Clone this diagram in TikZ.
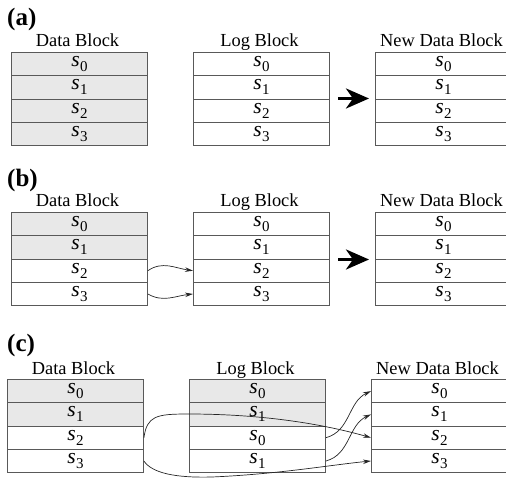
\documentclass[tikz,border=0pt]{standalone}
\usepackage{fontspec}
\setmainfont{Liberation Serif}
\usetikzlibrary{arrows.meta}
\tikzset{
  cell/.style={draw=black!65, line width=0.9pt, minimum width=136pt, minimum height=23.3pt,
    inner sep=0pt, font=\fontsize{21.5}{21.5}\selectfont, anchor=north west},
  grey/.style={cell, fill=black!9},
  blk/.style={font=\fontsize{18.4}{18.4}\selectfont, anchor=base, inner sep=0pt},
  panel/.style={font=\fontsize{25}{25}\selectfont\bfseries, anchor=base west, inner sep=0pt},
  conn/.style={draw=black!85, line width=0.7pt, -{Stealth[length=8pt,width=4.5pt]}},
  bigarrow/.style={draw=black, line width=3.5pt, -{Stealth[length=23pt,width=20pt,inset=7pt]}}
}
\newcommand{\sv}[1]{\textit{s}\kern0.5pt\raisebox{-5pt}{\fontsize{15}{15}\selectfont #1}}
% name, x, y(top), number of grey rows, subscripts, label
\newcommand{\drawblock}[6]{%
  \node[blk] (#1lab) at (#2+66.5,#3-5) {#6};
  \foreach \s [count=\i from 0] in {#5} {
    \pgfmathsetmacro{\yy}{#3+\i*23.3}
    \ifnum\i<#4
      \node[grey] (#1\i) at (#2,\yy) {\sv{\s}};
    \else
      \node[cell] (#1\i) at (#2,\yy) {\sv{\s}};
    \fi
  }}
\begin{document}
\begin{tikzpicture}[x=1pt,y=-1pt]
\useasboundingbox (0,0) rectangle (506,478);
% ---------- (a)
\node[panel] (pa) at (7,26) {(a)};
\drawblock{ad}{11}{52}{4}{0,1,2,3}{Data Block}
\drawblock{al}{193}{52}{0}{0,1,2,3}{Log Block}
\drawblock{an}{375}{52}{0}{0,1,2,3}{New Data Block}
\coordinate (aS) at (338,98.5);
\coordinate (aE) at (369,98.5);
\draw[bigarrow] (aS) -- (aE);
% ---------- (b)
\node[panel] (pb) at (7,187) {(b)};
\drawblock{bd}{11}{212}{2}{0,1,2,3}{Data Block}
\drawblock{bl}{193}{212}{0}{0,1,2,3}{Log Block}
\drawblock{bn}{375}{212}{0}{0,1,2,3}{New Data Block}
\coordinate (bS) at (338,259.5);
\coordinate (bE) at (369,259.5);
\draw[bigarrow] (bS) -- (bE);
\draw[conn] (bd2.east) to[out=35,in=172] (bl2.west);
\draw[conn] (bd3.east) to[out=-30,in=186] (bl3.west);
% ---------- (c)
\node[panel] (pc) at (7,352) {(c)};
\drawblock{cd}{7}{379}{2}{0,1,2,3}{Data Block}
\drawblock{cl}{189}{379}{2}{0,1,0,1}{Log Block}
\drawblock{cn}{371}{379}{0}{0,1,2,3}{New Data Block}
\draw[conn] (cd2.east) .. controls (147,416) and (156,414) .. (188,414)
   .. controls (270,414) and (330,426) .. (cn2.west);
\draw[conn] (cd3.east) .. controls (152,473) and (175,478) .. (212,477)
   .. controls (280,474) and (330,465) .. (cn3.west);
\draw[conn] (cl2.east) to[out=15,in=205] (cn0.west);
\draw[conn] (cl3.east) to[out=15,in=205] (cn1.west);
\end{tikzpicture}
\end{document}
